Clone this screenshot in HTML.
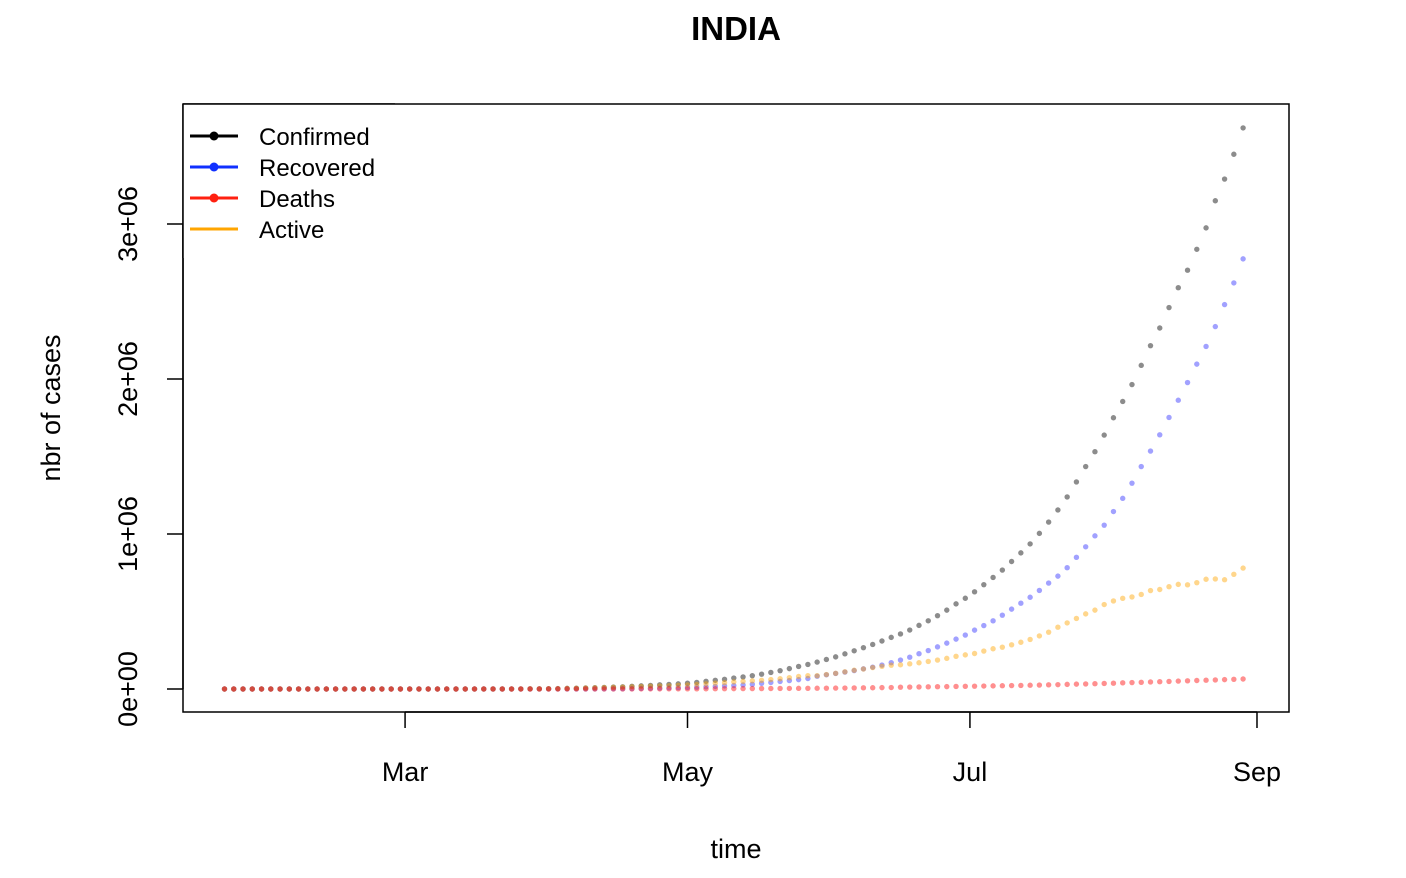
<!DOCTYPE html>
<html><head><meta charset="utf-8"><style>
body{margin:0;background:#fff;}
svg{display:block;font-family:"Liberation Sans",Arial,sans-serif;}
</style></head><body>
<svg id="chart" width="1406" height="878">
<text x="736" y="40" text-anchor="middle" font-size="33" font-weight="bold">INDIA</text>
<rect x="183" y="104" width="1106" height="608" fill="none" stroke="#000" stroke-width="1.5"/>
<g id="yaxis"></g>
<g id="xaxis"></g>
<text x="0" y="0" transform="translate(60,408) rotate(-90)" text-anchor="middle" font-size="27">nbr of cases</text>
<text x="736" y="858" text-anchor="middle" font-size="27">time</text>
<g id="series"></g>
<g id="legend">
<rect x="183" y="104" width="212" height="154" fill="#fff" stroke="none"/>
<line x1="183" y1="104" x2="395" y2="104" stroke="#000" stroke-width="1.5"/>
<line x1="183" y1="104" x2="183" y2="258" stroke="#000" stroke-width="1.5"/>
</g>
</svg>
<script>
const startDate = "2020-01-22";
const stepDays = 2;
const yTicks = [0, 1e6, 2e6, 3e6];
const yTickLabels = ["0e+00", "1e+06", "2e+06", "3e+06"];
const xTickDays = [39, 100, 161, 223];
const xTickLabels = ["Mar", "May", "Jul", "Sep"];
const seriesNames = ["Confirmed", "Recovered", "Deaths", "Active"];
const confirmed = [0,0,0,0,0,0,0,0,0,0,0,0,0,0,0,0,0,0,0,0,0,0,0,0,0,0.07,0.08,0.1,0.14,0.2,0.4,0.5,0.7,1.0,1.3,1.9,2.6,4.1,5.2,6.7,8.4,10.4,12.4,14.4,17.3,20.1,23.1,27.0,29.5,33.0,37.3,42.5,49.4,56.3,62.8,70.8,78.0,85.9,95.7,106.8,118.2,131.4,145.4,158.3,173.5,190.5,207.2,226.7,246.6,266.6,287.2,309.6,333.0,355.1,380.5,410.5,440.2,473.1,508.9,549.2,585.5,627.2,673.2,719.7,767.3,822.6,878.3,936.2,1004,1077,1155,1239,1336,1435,1531,1638,1750,1855,1964,2088,2215,2329,2461,2589,2702,2837,2975,3150,3290,3450,3620];
const recovered = [0,0,0,0,0,0,0,0,0,0,0,0,0,0,0,0,0,0,0,0,0,0,0,0,0,0,0,0,0,0,0,0,0,0,0.1,0.15,0.2,0.3,0.4,0.6,0.8,1.2,1.5,2.0,2.9,3.9,4.7,6.2,7.8,8.3,10.0,11.8,14.2,16.8,20.0,22.5,26.2,30.3,36.8,42.3,48.5,54.4,60.5,67.7,82.6,91.8,100.3,109.4,118.7,130.0,141.0,154.3,169.8,186.9,205.2,227.8,248.2,271.7,295.9,321.8,347.9,379.9,409.1,439.9,476.4,515.4,553.5,592.0,635.8,683.3,728.3,782.6,849.4,917.6,988.0,1057,1145,1230,1328,1435,1535,1640,1752,1863,1977,2096,2210,2338,2480,2620,2775];
const deaths = [0,0,0,0,0,0,0,0,0,0,0,0,0,0,0,0,0,0,0,0,0,0,0,0,0,0,0,0,0,0,0,0,0,0.03,0.04,0.06,0.07,0.12,0.17,0.22,0.29,0.36,0.42,0.49,0.56,0.65,0.72,0.88,0.94,1.07,1.22,1.39,1.69,1.89,2.11,2.29,2.55,2.75,3.03,3.30,3.58,3.87,4.17,4.53,4.97,5.39,5.82,6.35,6.95,7.47,8.10,8.88,9.52,11.9,12.6,13.3,14.0,14.9,15.3,16.5,17.4,18.2,19.2,20.2,21.1,22.1,23.2,24.3,25.6,27.0,28.1,29.9,31.4,32.8,34.2,35.7,37.4,39.8,41.6,43.3,45.3,47.0,48.9,50.9,52.9,54.8,56.7,58.4,60.5,62.6,64.5];
const active = [0,0,0,0,0,0,0,0,0,0,0,0,0,0,0,0,0,0,0,0,0,0,0,0,0,0.07,0.08,0.1,0.14,0.2,0.4,0.5,0.7,1.0,1.2,1.7,2.3,3.7,4.6,5.9,7.3,8.8,10.5,11.9,13.8,15.6,17.7,19.9,20.8,23.6,26.1,29.3,33.5,37.6,40.7,46.0,49.2,52.8,55.9,61.2,66.1,73.1,80.7,86.1,85.9,93.3,101.1,110.9,120.9,129.1,138.1,146.4,153.7,156.3,162.7,169.4,178.0,186.5,197.7,210.9,220.2,229.1,244.9,259.6,269.8,285.1,301.6,319.9,342.6,366.7,398.6,426.5,455.2,484.6,508.8,545,568,585,594,610,635,642,660,675,672,686,708,710,705,740,780];

const NS = "http://www.w3.org/2000/svg";
const X0 = 224.5, PXDAY = 4.63, Y0 = 689, PXPERM = 155;
function xScale(day){ return X0 + day * PXDAY; }
function yScale(v){ return Y0 - v / 1e6 * PXPERM; }
function mk(tag, attrs, parent){ const e = document.createElementNS(NS, tag); for (const k in attrs) e.setAttribute(k, attrs[k]); parent.appendChild(e); return e; }

const yax = document.getElementById("yaxis");
mk("line", {x1:183, y1:yScale(yTicks[0]), x2:183, y2:yScale(yTicks[yTicks.length-1]), stroke:"#000", "stroke-width":1.5}, yax);
yTicks.forEach((v, i) => {
  const y = yScale(v);
  const t = mk("line", {x1:167, y1:y, x2:183, y2:y, stroke:"#000", "stroke-width":1.5}, yax);
  
  
  const tx = mk("text", {x:0, y:0, transform:`translate(137,${y}) rotate(-90)`, "text-anchor":"middle", "font-size":27}, yax);
  tx.textContent = yTickLabels[i];
  
  
});
const xax = document.getElementById("xaxis");
mk("line", {x1:xScale(xTickDays[0]), y1:712, x2:xScale(xTickDays[xTickDays.length-1]), y2:712, stroke:"#000", "stroke-width":1.5}, xax);
xTickDays.forEach((d, i) => {
  const x = xScale(d);
  const t = mk("line", {x1:x, y1:712, x2:x, y2:728, stroke:"#000", "stroke-width":1.5}, xax);
  
  
  const tx = mk("text", {x:x, y:781, "text-anchor":"middle", "font-size":27}, xax);
  tx.textContent = xTickLabels[i];
  
  
});

const sg = document.getElementById("series");
const defs = [
  {arr: confirmed, color: "rgba(0,0,0,0.45)", name: "confirmed"},
  {arr: recovered, color: "rgba(30,30,255,0.42)", name: "recovered"},
  {arr: active, color: "rgba(255,165,0,0.45)", name: "active"},
  {arr: deaths, color: "rgba(255,20,20,0.48)", name: "deaths"}
];
defs.forEach(s => {
  const g = mk("g", {}, sg);
  
  
  s.arr.forEach((v, i) => {
    const c = mk("circle", {cx: xScale(i * stepDays), cy: yScale(v * 1000), r: 2.7, fill: s.color}, g);
    
    
  });
});

const lg = document.getElementById("legend");
const legColors = ["#000", "#1030ff", "#ff2010", "#ffa500"];
seriesNames.forEach((n, i) => {
  const y = 136 + i * 31;
  const l = mk("line", {x1:190, y1:y, x2:238, y2:y, stroke:legColors[i], "stroke-width":3}, lg);
  
  
  if (i < 3) {
    const c = mk("circle", {cx:214, cy:y, r:4.5, fill:legColors[i]}, lg);
    
    
  }
  const t = mk("text", {x:259, y:y + 9, "font-size":24}, lg);
  t.textContent = n;
  
  
});
</script>
</body></html>
